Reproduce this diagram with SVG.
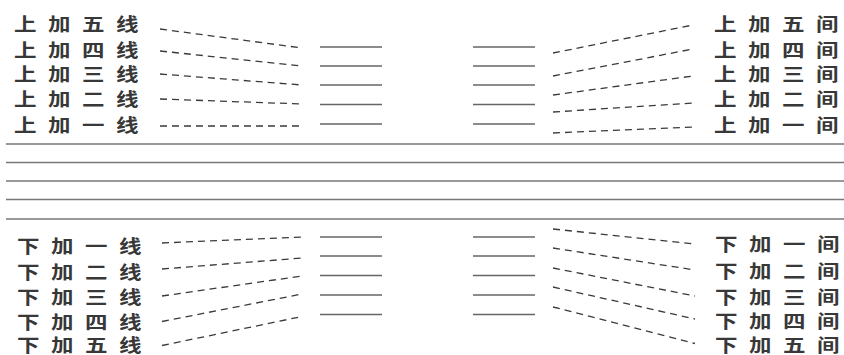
<svg xmlns="http://www.w3.org/2000/svg" width="844" height="355" viewBox="0 0 844 355">
<style>
.lbl{font-family:"Noto Sans CJK SC","Noto Sans",sans-serif;font-size:18px;fill:#383838;dominant-baseline:central;font-weight:bold}
.staff{stroke:#777;stroke-width:1.6;fill:none}
.ledger{stroke:#666;stroke-width:1.3;fill:none}
.dash{stroke:#3a3a3a;stroke-width:1.3;stroke-dasharray:7 5;fill:none}
</style>
<rect width="844" height="355" fill="#fff"/>
<g id="staff">
<line class="staff" x1="6" y1="144" x2="844" y2="144"/>
<line class="staff" x1="6" y1="162.5" x2="844" y2="162.5"/>
<line class="staff" x1="6" y1="181" x2="844" y2="181"/>
<line class="staff" x1="6" y1="199.5" x2="844" y2="199.5"/>
<line class="staff" x1="6" y1="219" x2="844" y2="219"/>
</g>
<g id="ledgers">
<line class="ledger" x1="320" y1="47" x2="382" y2="47"/>
<line class="ledger" x1="320" y1="66" x2="382" y2="66"/>
<line class="ledger" x1="320" y1="85" x2="382" y2="85"/>
<line class="ledger" x1="320" y1="104.5" x2="382" y2="104.5"/>
<line class="ledger" x1="320" y1="124" x2="382" y2="124"/>
<line class="ledger" x1="473" y1="47" x2="535" y2="47"/>
<line class="ledger" x1="473" y1="66" x2="535" y2="66"/>
<line class="ledger" x1="473" y1="85" x2="535" y2="85"/>
<line class="ledger" x1="473" y1="104.5" x2="535" y2="104.5"/>
<line class="ledger" x1="473" y1="124" x2="535" y2="124"/>
<line class="ledger" x1="320" y1="237" x2="382" y2="237"/>
<line class="ledger" x1="320" y1="256" x2="382" y2="256"/>
<line class="ledger" x1="320" y1="275.5" x2="382" y2="275.5"/>
<line class="ledger" x1="320" y1="295" x2="382" y2="295"/>
<line class="ledger" x1="320" y1="314.5" x2="382" y2="314.5"/>
<line class="ledger" x1="473" y1="237" x2="535" y2="237"/>
<line class="ledger" x1="473" y1="256" x2="535" y2="256"/>
<line class="ledger" x1="473" y1="275.5" x2="535" y2="275.5"/>
<line class="ledger" x1="473" y1="295" x2="535" y2="295"/>
<line class="ledger" x1="473" y1="314.5" x2="535" y2="314.5"/>
</g>
<g id="connectors">
<line class="dash" x1="160" y1="29" x2="302" y2="48"/>
<line class="dash" x1="160" y1="51" x2="302" y2="66"/>
<line class="dash" x1="160" y1="74" x2="302" y2="85"/>
<line class="dash" x1="160" y1="99" x2="302" y2="104"/>
<line class="dash" x1="160" y1="126" x2="302" y2="126"/>
<line class="dash" x1="553" y1="53" x2="693" y2="25"/>
<line class="dash" x1="553" y1="76" x2="693" y2="49"/>
<line class="dash" x1="553" y1="95" x2="693" y2="76"/>
<line class="dash" x1="553" y1="112" x2="693" y2="103"/>
<line class="dash" x1="553" y1="133" x2="693" y2="127"/>
<line class="dash" x1="162" y1="243" x2="302" y2="237"/>
<line class="dash" x1="162" y1="269" x2="302" y2="258"/>
<line class="dash" x1="162" y1="296" x2="302" y2="276"/>
<line class="dash" x1="162" y1="321.5" x2="302" y2="294"/>
<line class="dash" x1="162" y1="345.5" x2="302" y2="316.5"/>
<line class="dash" x1="553" y1="229" x2="695" y2="244"/>
<line class="dash" x1="553" y1="248" x2="695" y2="270"/>
<line class="dash" x1="553" y1="268" x2="695" y2="296"/>
<line class="dash" x1="553" y1="287" x2="695" y2="319"/>
<line class="dash" x1="553" y1="307" x2="695" y2="343.5"/>
</g>
<g id="label-top-left">
<text class="lbl" transform="translate(14,23.5) scale(1.25,1)" x="0 27.2 54.4 81.6" y="0">上加五线</text>
<text class="lbl" transform="translate(14,49) scale(1.25,1)" x="0 27.2 54.4 81.6" y="0">上加四线</text>
<text class="lbl" transform="translate(14,73) scale(1.25,1)" x="0 27.2 54.4 81.6" y="0">上加三线</text>
<text class="lbl" transform="translate(14,98) scale(1.25,1)" x="0 27.2 54.4 81.6" y="0">上加二线</text>
<text class="lbl" transform="translate(14,124.5) scale(1.25,1)" x="0 27.2 54.4 81.6" y="0">上加一线</text>
</g>
<g id="label-top-right">
<text class="lbl" transform="translate(714,23) scale(1.25,1)" x="0 27.2 54.4 81.6" y="0">上加五间</text>
<text class="lbl" transform="translate(714,49) scale(1.25,1)" x="0 27.2 54.4 81.6" y="0">上加四间</text>
<text class="lbl" transform="translate(714,73) scale(1.25,1)" x="0 27.2 54.4 81.6" y="0">上加三间</text>
<text class="lbl" transform="translate(714,98) scale(1.25,1)" x="0 27.2 54.4 81.6" y="0">上加二间</text>
<text class="lbl" transform="translate(714,124) scale(1.25,1)" x="0 27.2 54.4 81.6" y="0">上加一间</text>
</g>
<g id="label-bottom-left">
<text class="lbl" transform="translate(17,245) scale(1.25,1)" x="0 27.2 54.4 81.6" y="0">下加一线</text>
<text class="lbl" transform="translate(17,271) scale(1.25,1)" x="0 27.2 54.4 81.6" y="0">下加二线</text>
<text class="lbl" transform="translate(17,296) scale(1.25,1)" x="0 27.2 54.4 81.6" y="0">下加三线</text>
<text class="lbl" transform="translate(17,321) scale(1.25,1)" x="0 27.2 54.4 81.6" y="0">下加四线</text>
<text class="lbl" transform="translate(17,344.5) scale(1.25,1)" x="0 27.2 54.4 81.6" y="0">下加五线</text>
</g>
<g id="label-bottom-right">
<text class="lbl" transform="translate(715,243) scale(1.25,1)" x="0 27.2 54.4 81.6" y="0">下加一间</text>
<text class="lbl" transform="translate(715,270) scale(1.25,1)" x="0 27.2 54.4 81.6" y="0">下加二间</text>
<text class="lbl" transform="translate(715,296) scale(1.25,1)" x="0 27.2 54.4 81.6" y="0">下加三间</text>
<text class="lbl" transform="translate(715,320) scale(1.25,1)" x="0 27.2 54.4 81.6" y="0">下加四间</text>
<text class="lbl" transform="translate(715,344) scale(1.25,1)" x="0 27.2 54.4 81.6" y="0">下加五间</text>
</g>
</svg>
